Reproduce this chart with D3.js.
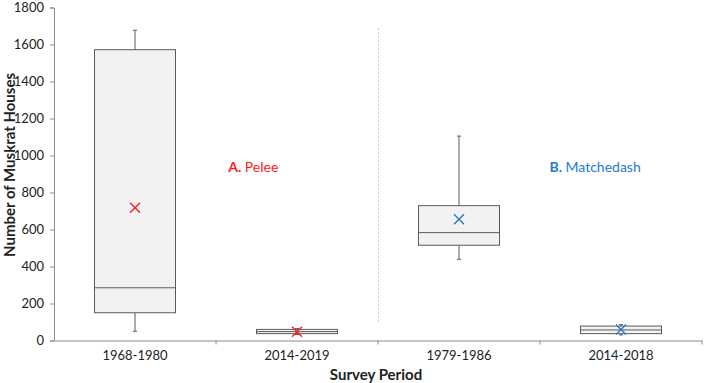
<!DOCTYPE html>
<html><head><meta charset="utf-8">
<script src="https://cdn.jsdelivr.net/npm/d3@7"></script>
<style>body{margin:0;background:#fff}svg{display:block}text{font-family:Lato,"Open Sans",sans-serif}</style>
</head><body><svg id="c" width="709" height="383"></svg>
<script>
const categories = ["1968-1980","2014-2019","1979-1986","2014-2018"];
const whiskerMin = [50, 33, 439, 30];
const q1 = [150, 37, 515, 37];
const median = [285, 48, 583, 57];
const q3 = [1572, 60, 729, 78];
const whiskerMax = [1677, 64, 1105, 86];
const means = [718, 47, 655, 60];
const meanColors = ["#ff1a1a","#ff1a1a","#1f7ad0","#1f7ad0"];
const yTicks = [0,200,400,600,800,1000,1200,1400,1600,1800];
const groupLabels = [{bold:"A.", text:" Pelee", color:"#ff1a1a", at:1.23, v:910},
                     {bold:"B.", text:" Matchedash", color:"#1f7ad0", at:3.34, v:910}];

const svg = d3.select("#c");
const x = d3.scaleBand().domain(categories).range([54, 702]);
const y = d3.scaleLinear().domain([0, 1800]).range([340.5, 7.5]);
const axisColor = "#8c8c8c";

const ya = svg.append("g").attr("transform","translate(54,0)")
  .call(d3.axisLeft(y).tickValues(yTicks).tickFormat(d3.format("d")).tickSize(4).tickPadding(6));
ya.select(".domain").attr("stroke", axisColor);
ya.selectAll(".tick line").attr("stroke", axisColor);
ya.selectAll("text").attr("fill","#222").style("font-size","13px");

const xa = svg.append("g").attr("transform","translate(0,340.5)")
  .call(d3.axisBottom(x).tickSize(0).tickPadding(10));
xa.select(".domain").attr("stroke", axisColor);
xa.selectAll("text").attr("fill","#222").style("font-size","13px");
const bounds = categories.map(c => x(c)).concat([x(categories[3]) + x.bandwidth()]);
xa.selectAll(".btick").data(bounds.slice(1)).enter().append("line")
  .attr("x1", d=>d).attr("x2", d=>d).attr("y1",0).attr("y2",4).attr("stroke",axisColor);

svg.append("line").attr("x1", x(categories[2])+0.5).attr("x2", x(categories[2])+0.5)
  .attr("y1", y(1690)).attr("y2", y(95))
  .attr("stroke","#c8c8c8").attr("stroke-dasharray","2,2");

const bw = x.bandwidth()*0.5;
const g = svg.append("g");
categories.forEach((c,i) => {
  const cx = x(c) + x.bandwidth()/2;
  const lineCol = "#5a5a5a";
  g.append("line").attr("x1",cx).attr("x2",cx).attr("y1",y(whiskerMax[i])).attr("y2",y(q3[i])).attr("stroke",lineCol);
  g.append("line").attr("x1",cx).attr("x2",cx).attr("y1",y(q1[i])).attr("y2",y(whiskerMin[i])).attr("stroke",lineCol);
  g.append("line").attr("x1",cx-2).attr("x2",cx+2).attr("y1",y(whiskerMax[i])).attr("y2",y(whiskerMax[i])).attr("stroke",lineCol);
  g.append("line").attr("x1",cx-2).attr("x2",cx+2).attr("y1",y(whiskerMin[i])).attr("y2",y(whiskerMin[i])).attr("stroke",lineCol);
  g.append("rect").attr("x",cx-bw/2).attr("width",bw)
    .attr("y",y(q3[i])).attr("height",y(q1[i])-y(q3[i]))
    .attr("fill","#f2f2f2").attr("stroke",lineCol);
  g.append("line").attr("x1",cx-bw/2).attr("x2",cx+bw/2).attr("y1",y(median[i])).attr("y2",y(median[i])).attr("stroke",lineCol);
  const my = y(means[i]), s = 5;
  g.append("path").attr("d",`M${cx-s},${my-s}L${cx+s},${my+s}M${cx-s},${my+s}L${cx+s},${my-s}`)
    .attr("stroke",meanColors[i]).attr("stroke-width",1.4).attr("fill","none");
});

groupLabels.forEach(l => {
  const idx = Math.floor(l.at);
  const px = x(categories[idx]) + x.bandwidth()*(l.at-idx);
  const t = svg.append("text").attr("x", px).attr("y", y(l.v)).attr("fill", l.color)
    .style("font-size","14px").attr("text-anchor","middle");
  t.append("tspan").attr("font-weight","bold").text(l.bold);
  t.append("tspan").text(l.text);
});

svg.append("text").attr("transform","translate(15,165) rotate(-90)").attr("text-anchor","middle")
  .attr("font-weight","bold").style("font-size","15px").attr("fill","#222").text("Number of Muskrat Houses");
svg.append("text").attr("x",376).attr("y",380).attr("text-anchor","middle")
  .attr("font-weight","bold").style("font-size","15px").attr("fill","#222").text("Survey Period");
</script></body></html>
